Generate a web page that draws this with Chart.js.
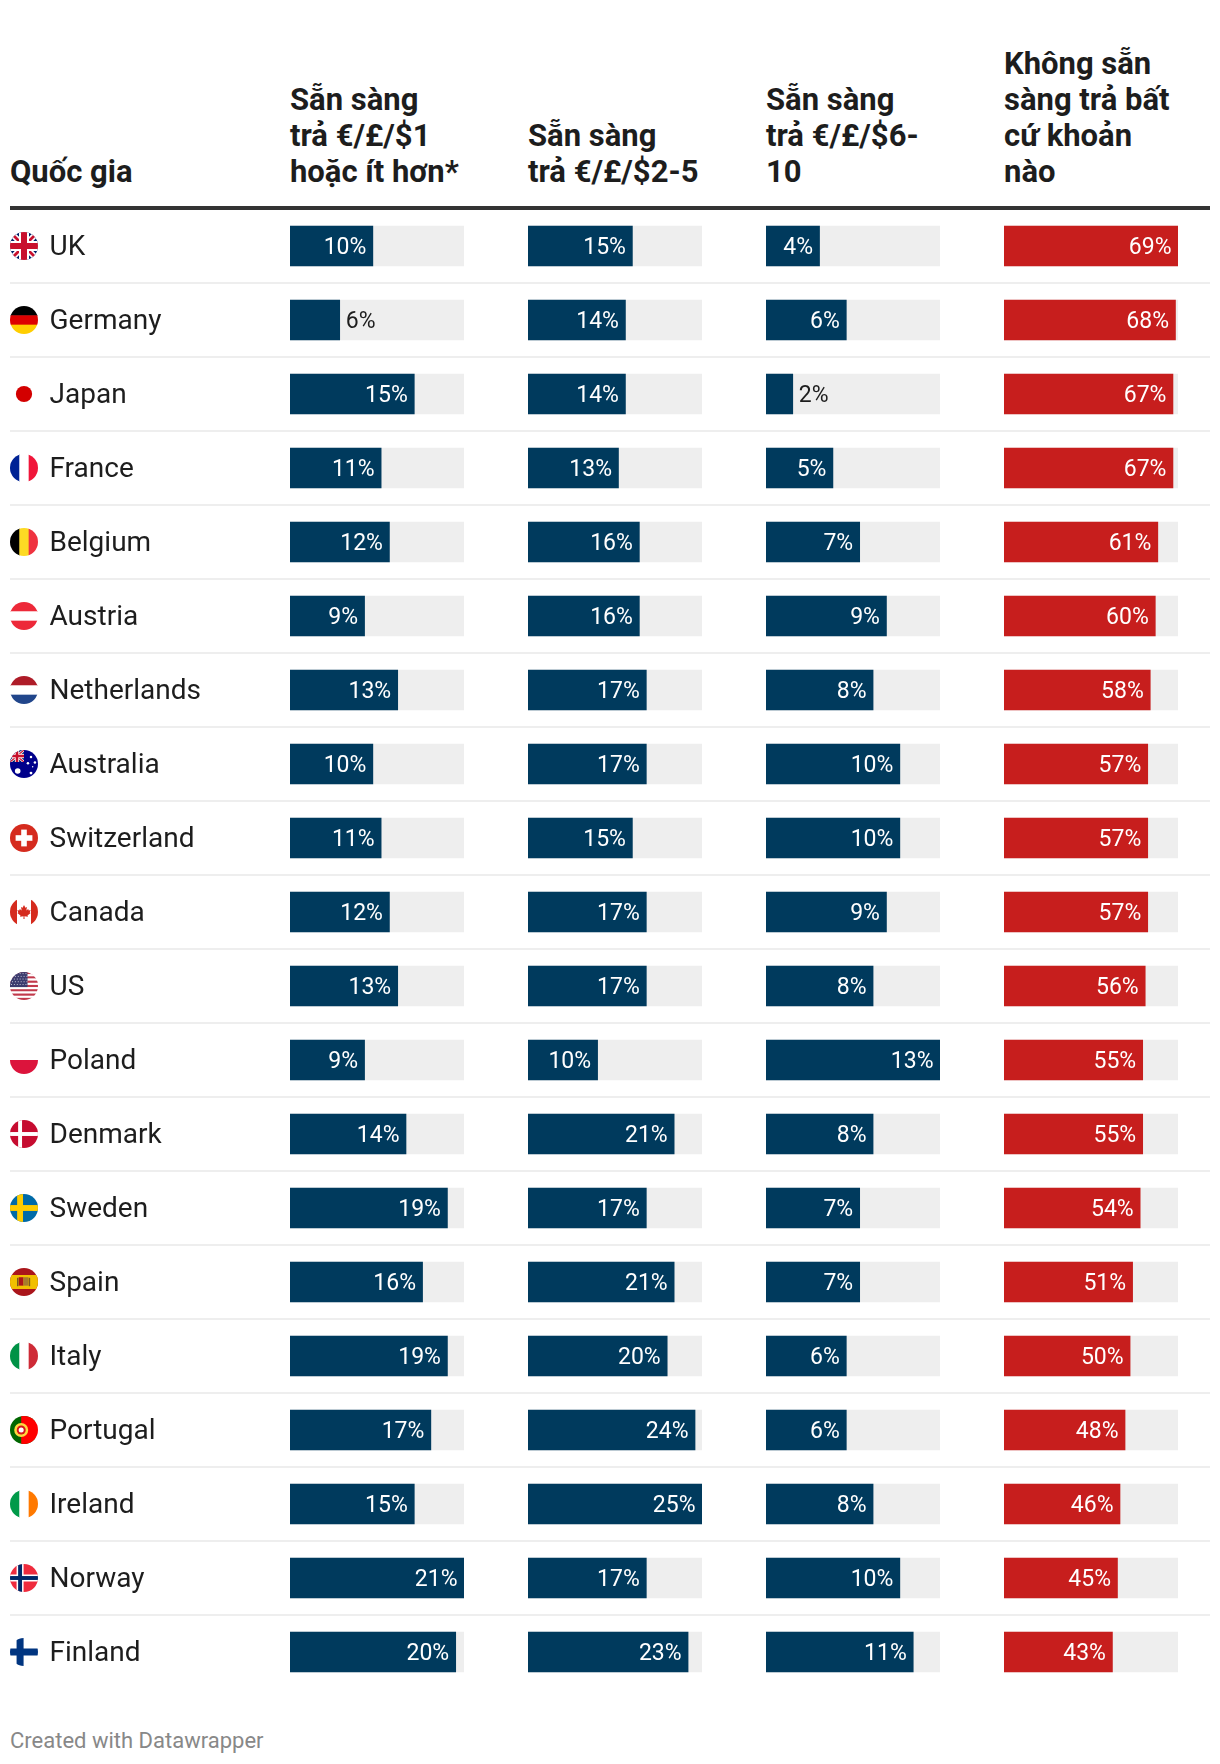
<!DOCTYPE html>
<html lang="vi">
<head>
<meta charset="utf-8">
<title>Chart</title>
<script src="https://cdn.jsdelivr.net/npm/chart.js@4"></script>
<style>
html,body{margin:0;padding:0;background:#fff;}
#page{position:relative;width:1220px;height:1764px;overflow:hidden;font-family:Roboto,sans-serif;}
canvas{position:absolute;display:block;}
.head{position:absolute;bottom:1574px;font:700 31px/36px Roboto,sans-serif;color:#1d1d1d;white-space:nowrap;}
#rule{position:absolute;left:10px;top:206px;width:1200px;height:4px;background:#333;}
#foot{position:absolute;left:10px;top:1726px;font:400 22px/30px Roboto,sans-serif;color:#888;white-space:nowrap;}
</style>
</head>
<body>
<div id="page">
  <div class="head" style="left:10px">Quốc gia</div>
  <div class="head" style="left:290px">Sẵn sàng<br>trả €/£/$1<br>hoặc ít hơn*</div>
  <div class="head" style="left:528px">Sẵn sàng<br>trả €/£/$2-5</div>
  <div class="head" style="left:766px">Sẵn sàng<br>trả €/£/$6-<br>10</div>
  <div class="head" style="left:1004px">Không sẵn<br>sàng trả bất<br>cứ khoản<br>nào</div>
  <div id="rule"></div>
  <canvas id="base" width="1220" height="1480" style="left:0;top:209px"></canvas>
  <canvas id="c0" width="174" height="1480" style="left:290px;top:209px"></canvas>
  <canvas id="c1" width="174" height="1480" style="left:528px;top:209px"></canvas>
  <canvas id="c2" width="174" height="1480" style="left:766px;top:209px"></canvas>
  <canvas id="c3" width="174" height="1480" style="left:1004px;top:209px"></canvas>
  <div id="foot">Created with Datawrapper</div>
</div>
<script>
const countries = ["UK","Germany","Japan","France","Belgium","Austria","Netherlands","Australia","Switzerland","Canada","US","Poland","Denmark","Sweden","Spain","Italy","Portugal","Ireland","Norway","Finland"];
const payUpToOne = [10,6,15,11,12,9,13,10,11,12,13,9,14,19,16,19,17,15,21,20];
const payTwoToFive = [15,14,14,13,16,16,17,17,15,17,17,10,21,17,21,20,24,25,17,23];
const paySixToTen = [4,6,2,5,7,9,8,10,10,9,8,13,8,7,7,6,6,8,10,11];
const payNothing = [69,68,67,67,61,60,58,57,57,57,56,55,55,54,51,50,48,46,45,43];

const NAVY = '#003a5d', RED = '#c71e1d', TRACK = '#eeeeee', INK = '#1d1d1d';
Chart.defaults.font.family = 'Roboto, sans-serif';
Chart.defaults.animation = false;
Chart.defaults.responsive = false;
Chart.defaults.devicePixelRatio = 1;

/* ---------- flags: each draws into a box centred on 0,0 with radius r ---------- */
function vBands(c,r,cols){const w=2*r/cols.length;cols.forEach((k,i)=>{c.fillStyle=k;c.fillRect(-r+i*w,-r,w+.5,2*r);});}
function hBands(c,r,cols){const h=2*r/cols.length;cols.forEach((k,i)=>{c.fillStyle=k;c.fillRect(-r,-r+i*h,2*r,h+.5);});}
function nordic(c,r,bg,out,outW,inn,inW){
  c.fillStyle=bg;c.fillRect(-r,-r,2*r,2*r);
  const cx=-r*0.28;
  c.fillStyle=out;c.fillRect(cx-outW/2,-r,outW,2*r);c.fillRect(-r,-outW/2,2*r,outW);
  if(inn){c.fillStyle=inn;c.fillRect(cx-inW/2,-r,inW,2*r);c.fillRect(-r,-inW/2,2*r,inW);}
}
function union(c,x,y,w,h){
  c.save();c.beginPath();c.rect(x,y,w,h);c.clip();
  c.fillStyle='#012169';c.fillRect(x,y,w,h);
  const u=Math.min(w,h)/14;
  c.lineCap='butt';
  c.strokeStyle='#fff';c.lineWidth=3*u;
  c.beginPath();c.moveTo(x,y);c.lineTo(x+w,y+h);c.moveTo(x+w,y);c.lineTo(x,y+h);c.stroke();
  c.strokeStyle='#c8102e';c.lineWidth=1.4*u;
  c.beginPath();c.moveTo(x,y);c.lineTo(x+w,y+h);c.moveTo(x+w,y);c.lineTo(x,y+h);c.stroke();
  c.fillStyle='#fff';c.fillRect(x+w/2-2.5*u,y,5*u,h);c.fillRect(x,y+h/2-2.5*u,w,5*u);
  c.fillStyle='#c8102e';c.fillRect(x+w/2-1.5*u,y,3*u,h);c.fillRect(x,y+h/2-1.5*u,w,3*u);
  c.restore();
}
function dot(c,x,y,rad,col){c.fillStyle=col;c.beginPath();c.arc(x,y,rad,0,7);c.fill();}
const flags = {
  UK:(c,r)=>union(c,-r,-r,2*r,2*r),
  Germany:(c,r)=>hBands(c,r,['#000','#dd0000','#ffce00']),
  Japan:(c,r)=>{c.fillStyle='#fff';c.fillRect(-r,-r,2*r,2*r);dot(c,0,0,r*0.58,'#d30000');},
  France:(c,r)=>vBands(c,r,['#002395','#fff','#f0163a']),
  Belgium:(c,r)=>vBands(c,r,['#000','#fdda24','#ef3340']),
  Austria:(c,r)=>hBands(c,r,['#ed2939','#fff','#ed2939']),
  Netherlands:(c,r)=>hBands(c,r,['#ae1c28','#fff','#21468b']),
  Australia:(c,r)=>{
    c.fillStyle='#00008b';c.fillRect(-r,-r,2*r,2*r);
    union(c,-r,-r,r,r*0.86);
    [[-.45,.5,.2],[.5,-.5,.09],[.78,-.1,.09],[.28,-.05,.09],[.5,.65,.1],[.62,.2,.05]].forEach(s=>dot(c,s[0]*r,s[1]*r,s[2]*r,'#fff'));
  },
  Switzerland:(c,r)=>{
    c.fillStyle='#d52b1e';c.fillRect(-r,-r,2*r,2*r);
    c.fillStyle='#fff';c.fillRect(-r*.2,-r*.6,r*.4,r*1.2);c.fillRect(-r*.6,-r*.2,r*1.2,r*.4);
  },
  Canada:(c,r)=>{
    c.fillStyle='#fff';c.fillRect(-r,-r,2*r,2*r);
    c.fillStyle='#d52b1e';c.fillRect(-r,-r,r*.5,2*r);c.fillRect(r*.5,-r,r*.5,2*r);
    const s=r*.5;c.beginPath();
    [[0,-1],[.2,-.6],[.42,-.72],[.34,-.2],[.6,-.42],[.68,-.22],[.95,-.28],[.82,.08],[.95,.16],[.5,.5],[.56,.68],[.06,.62],[.08,1],[-.08,1],[-.06,.62],[-.56,.68],[-.5,.5],[-.95,.16],[-.82,.08],[-.95,-.28],[-.68,-.22],[-.6,-.42],[-.34,-.2],[-.42,-.72],[-.2,-.6]]
      .forEach((p,i)=>i?c.lineTo(p[0]*s,p[1]*s):c.moveTo(p[0]*s,p[1]*s));
    c.closePath();c.fill();
  },
  US:(c,r)=>{
    const n=13,h=2*r/n;
    for(let i=0;i<n;i++){c.fillStyle=i%2?'#fff':'#c1394b';c.fillRect(-r,-r+i*h,2*r,h+.3);}
    c.fillStyle='#3c3b6e';c.fillRect(-r,-r,r*1.25,h*7);
    c.fillStyle='rgba(255,255,255,.85)';
    for(let a=0;a<6;a++)for(let b=0;b<5;b++)c.fillRect(-r+1+a*2.9+(b%2)*1,-r+1.2+b*2.7,.9,.9);
  },
  Poland:(c,r)=>hBands(c,r,['#fff','#dc143c']),
  Denmark:(c,r)=>nordic(c,r,'#c60c30','#fff',r*.28),
  Sweden:(c,r)=>nordic(c,r,'#006aa7','#fecc00',r*.42),
  Spain:(c,r)=>{
    c.fillStyle='#aa151b';c.fillRect(-r,-r,2*r,2*r);
    c.fillStyle='#f1bf00';c.fillRect(-r,-r*.5,2*r,r);
    c.fillStyle='#ad1519';c.fillRect(-r*.38,-r*.34,r*.34,r*.6);
    c.fillStyle='#a67c2d';c.fillRect(-r*.04,-r*.34,r*.36,r*.6);
    c.fillStyle='#7a5a1e';c.fillRect(-r*.5,-r*.3,r*.1,r*.6);c.fillRect(r*.34,-r*.3,r*.1,r*.6);
  },
  Italy:(c,r)=>vBands(c,r,['#009246','#fff','#ce2b37']),
  Portugal:(c,r)=>{
    c.fillStyle='#006600';c.fillRect(-r,-r,r*.8+r,2*r);
    c.fillStyle='#ff0000';c.fillRect(-r*.2,-r,r*1.2,2*r);
    dot(c,-r*.2,0,r*.5,'#ffd83d');
    dot(c,-r*.2,0,r*.32,'#d7141a');
    dot(c,-r*.2,0,r*.18,'#fff');
  },
  Ireland:(c,r)=>vBands(c,r,['#009a49','#fff','#ff7900']),
  Norway:(c,r)=>nordic(c,r,'#ef2b3d','#fff',r*.5,'#002868',r*.28),
  Finland:(c,r)=>nordic(c,r,'#fff','#003580',r*.5)
};

const flagPlugin = {
  id:'flags',
  afterDraw(chart){
    const c=chart.ctx, y=chart.scales.y, r=14, fx=24;
    countries.forEach((name,i)=>{
      c.save();
      c.translate(fx,y.getPixelForValue(i));
      c.beginPath();c.arc(0,0,r,0,Math.PI*2);c.clip();
      flags[name](c,r);
      c.restore();
    });
  }
};

/* ---------- base chart: country axis and row rules ---------- */
new Chart(document.getElementById('base'),{
  type:'bar',
  data:{labels:countries,datasets:[{label:'Quốc gia',data:[]}]},
  plugins:[flagPlugin],
  options:{
    indexAxis:'y',
    layout:{padding:{left:10,right:10,top:0,bottom:0}},
    plugins:{legend:{display:false},tooltip:{enabled:false}},
    scales:{
      x:{display:false},
      y:{
        position:'left',
        border:{display:false},
        afterFit(s){s.width=0;s.paddingTop=0;s.paddingBottom=0;},
        grid:{
          drawTicks:false,
          lineWidth:2,
          color:ctx=>(ctx.index>0&&ctx.index<countries.length)?'#eeeeee':'rgba(0,0,0,0)'
        },
        ticks:{
          mirror:true,padding:39.5,color:INK,autoSkip:false,
          font:{size:28,weight:400,lineHeight:0.16},
          callback:(v,i)=>['',countries[i]]
        }
      }
    }
  }
});

/* ---------- one bar chart per column, each on its own scale ---------- */
const valueLabels = {
  id:'valueLabels',
  afterDatasetsDraw(chart){
    const c=chart.ctx, meta=chart.getDatasetMeta(1), vals=chart.data.datasets[1].data;
    c.save();
    c.font='400 23px Roboto, sans-serif';
    c.textBaseline='middle';
    meta.data.forEach((bar,i)=>{
      const w=bar.x-chart.scales.x.left, txt=vals[i]+'%', inside=w>=52;
      c.textAlign=inside?'right':'left';
      c.fillStyle=inside?'#ffffff':INK;
      c.fillText(txt,inside?bar.x-6.5:bar.x+6,bar.y+2);
    });
    c.restore();
  }
};
[[payUpToOne,NAVY,'Sẵn sàng trả €/£/$1 hoặc ít hơn*'],
 [payTwoToFive,NAVY,'Sẵn sàng trả €/£/$2-5'],
 [paySixToTen,NAVY,'Sẵn sàng trả €/£/$6-10'],
 [payNothing,RED,'Không sẵn sàng trả bất cứ khoản nào']].forEach((col,k)=>{
  const [vals,color,label]=col, top=Math.max(...vals);
  new Chart(document.getElementById('c'+k),{
    type:'bar',
    data:{labels:countries,datasets:[
      {label:'track',data:vals.map(()=>top),backgroundColor:TRACK,order:2,barThickness:40,grouped:false},
      {label:label,data:vals,backgroundColor:color,order:1,barThickness:40,grouped:false}
    ]},
    plugins:[valueLabels],
    options:{
      indexAxis:'y',
      layout:{padding:0},
      plugins:{legend:{display:false},tooltip:{enabled:false}},
      scales:{
        x:{display:false,min:0,max:top,stacked:false},
        y:{display:false,stacked:false}
      }
    }
  });
});
</script>
</body>
</html>
